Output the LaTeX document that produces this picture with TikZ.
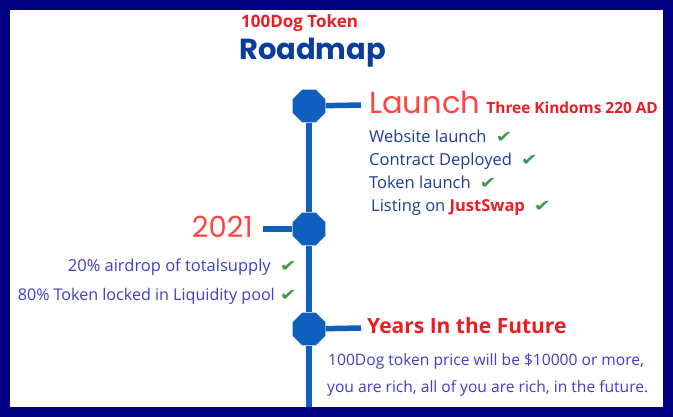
\documentclass[tikz,border=0pt]{standalone}
\usepackage{fontspec}
\setmainfont{Open Sans}
\newfontfamily\popfont{Poppins}
\newfontfamily\symfont{DejaVu Sans}
\usetikzlibrary{positioning,shapes.geometric}
\definecolor{frame}{HTML}{000080}
\definecolor{line}{HTML}{0F5FBF}
\definecolor{hot}{HTML}{EC1C24}
\definecolor{soft}{HTML}{FF4444}
\definecolor{deep}{HTML}{0B3D9C}
\definecolor{itemblue}{HTML}{1E3C96}
\definecolor{violet}{HTML}{3E3ECC}
\definecolor{tickgreen}{HTML}{3C9A50}
\newcommand{\tick}[1][9pt]{\hspace{#1}{\symfont\fontsize{14}{18}\selectfont\color{tickgreen}\scalebox{1.45}[1.15]{✔}}}

\begin{document}
\begin{tikzpicture}[
  x=1pt, y=-1pt,
  stop/.style={regular polygon, regular polygon sides=8, fill=line, inner sep=0pt, minimum size=35.5pt},
  bar/.style={line, line width=5.5pt},
  heading/.style={inner sep=0pt, text=soft, font=\popfont\fontsize{30.5}{32}\selectfont},
  subhead/.style={inner sep=0pt, text=hot, font=\bfseries\fontsize{15.4}{18}\selectfont},
  item/.style={inner sep=0pt, text=itemblue, font=\fontsize{16.5}{18}\selectfont},
  note/.style={item, text=violet}
]
% frame
\fill[frame] (0,0) rectangle (673,417);
\fill[white] (10,10) rectangle (663,407);
\useasboundingbox (0,0) rectangle (673,417);

% title
\node[subhead, anchor=base west, font=\bfseries\fontsize{17}{18}\selectfont] (token) at (241,28) {100Dog Token};
\node[inner sep=0pt, anchor=base west, text=deep, font=\popfont\bfseries\fontsize{29}{32}\selectfont] (title) at (239,60) {Roadmap};

% timeline
\node[stop] (m1) at (309,106) {};
\node[stop] (m2) at (309,229) {};
\node[stop] (m3) at (309,329) {};
\coordinate (bottom) at (309,407);
\coordinate (e1) at (361,105);
\coordinate (e2) at (263,229);
\coordinate (e3) at (361,328);
\draw[line, line width=6.5pt] (m1) -- (m2) -- (m3) -- (bottom);
\draw[bar] (m1) -- (e1);
\draw[bar] (m2) -- (e2);
\draw[bar] (m3) -- (e3);

% launch
\node[heading, anchor=base west] (launch) at (369,114) {Launch};
\node[subhead, anchor=base west] (era) at ([xshift=6pt]launch.base east) {Three Kindoms 220 AD};
\node[item, anchor=base west] (site) at (369,143) {Website launch\tick};
\node[item, anchor=base west] (contract) at (369,166) {Contract Deployed\tick};
\node[item, anchor=base west] (tokenl) at (369,189) {Token launch\tick};
\node[item, anchor=base west] (listing) at (371,212) {Listing on {\bfseries\color{hot}JustSwap}\tick};

% 2021
\node[heading, anchor=base east, font=\popfont\fontsize{29}{32}\selectfont] (year) at (253,238) {2021};
\node[note, anchor=base east] (airdrop) at (297,272) {20\% airdrop of totalsupply\tick};
\node[note, anchor=base east, font=\fontsize{16.1}{18}\selectfont] (locked) at (297,301) {80\% Token locked in Liquidity pool\tick[5pt]};

% future
\node[subhead, anchor=base west, font=\bfseries\fontsize{21}{24}\selectfont] (future) at (367,334) {Years In the Future};
\node[note, anchor=base west, font=\fontsize{15.6}{18}\selectfont] (price) at (328,365) {100Dog token price will be \$10000 or more,};
\node[note, anchor=base west, font=\fontsize{15.6}{18}\selectfont] (rich) at (327,392) {you are rich, all of you are rich, in the future.};
\end{tikzpicture}
\end{document}
